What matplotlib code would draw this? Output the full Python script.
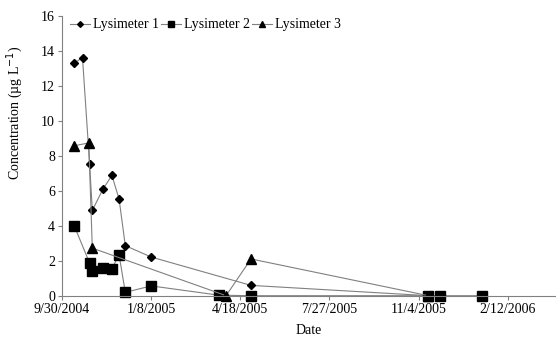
import matplotlib
matplotlib.use("Agg")
import matplotlib.pyplot as plt
import pandas as pd

plt.rcParams['font.family'] = ['Liberation Serif', 'DejaVu Serif']

dates1 = ["2004-10-14", "2004-10-23", "2004-10-31", "2004-11-03", "2004-11-15",
          "2004-11-25", "2004-12-03", "2004-12-10", "2005-01-08", "2005-04-30",
          "2005-11-15"]
vals1 = [13.3, 13.6, 7.5, 4.87, 6.1, 6.87, 5.53, 2.86, 2.21, 0.59, 0.0]

dates2 = ["2004-10-14", "2004-10-31", "2004-11-03", "2004-11-15", "2004-11-25",
          "2004-12-03", "2004-12-10", "2005-01-08", "2005-03-25", "2005-04-30",
          "2005-11-15", "2005-11-28", "2006-01-14"]
vals2 = [3.96, 1.86, 1.39, 1.58, 1.54, 2.34, 0.19, 0.56, 0.03, 0.0, 0.0, 0.0, 0.0]

dates3 = ["2004-10-14", "2004-10-30", "2004-11-03", "2005-04-02", "2005-04-30",
          "2005-11-15"]
vals3 = [8.57, 8.73, 2.72, 0.0, 2.1, 0.0]

series_names = ["Lysimeter 1", "Lysimeter 2", "Lysimeter 3"]
tick_dates = ["2004-09-30", "2005-01-08", "2005-04-18", "2005-07-27",
              "2005-11-04", "2006-02-12"]
tick_labels = ["9/30/2004", "1/8/2005", "4/18/2005", "7/27/2005",
               "11/4/2005", "2/12/2006"]

fig = plt.figure(figsize=(5.56, 3.41), dpi=100)
ax = fig.add_axes([62/556, 1-295.7/341, (555-62)/556, (295.7-15.7)/341])

line_kw = dict(color='#808080', linewidth=0.8, markerfacecolor='black',
               markeredgecolor='black', clip_on=False)
ax.plot(pd.to_datetime(dates1), vals1, marker='D', markersize=4.5,
        label=series_names[0], **line_kw)
ax.plot(pd.to_datetime(dates2), vals2, marker='s', markersize=6.5,
        label=series_names[1], **line_kw)
ax.plot(pd.to_datetime(dates3), vals3, marker='^', markersize=6.5,
        label=series_names[2], **line_kw)

ax.set_xlim(pd.Timestamp("2004-09-30"), pd.Timestamp("2006-04-06"))
ax.set_ylim(0, 16)
ax.set_yticks(range(0, 17, 2))
ax.set_xticks(pd.to_datetime(tick_dates))
ax.set_xticklabels(tick_labels)

for s in ['top', 'right']:
    ax.spines[s].set_visible(False)
for s in ['left', 'bottom']:
    ax.spines[s].set_color('#808080')
    ax.spines[s].set_linewidth(0.8)
ax.tick_params(axis='both', direction='out', length=3, width=0.8,
               color='#808080', labelsize=10, pad=2)

ax.set_xlabel("Date", fontsize=10, labelpad=6)
ax.set_ylabel("Concentration (µg L$^{-1}$)", fontsize=10)
ax.yaxis.set_label_coords(-0.075, 0.652)

leg = ax.legend(loc='upper left', ncol=3, frameon=False, fontsize=10,
                handlelength=1.4, handletextpad=0.25, columnspacing=0.15,
                markerscale=0.65, bbox_to_anchor=(0.0, 1.02), borderaxespad=0.2)

fig.savefig("out.png", dpi=100)
